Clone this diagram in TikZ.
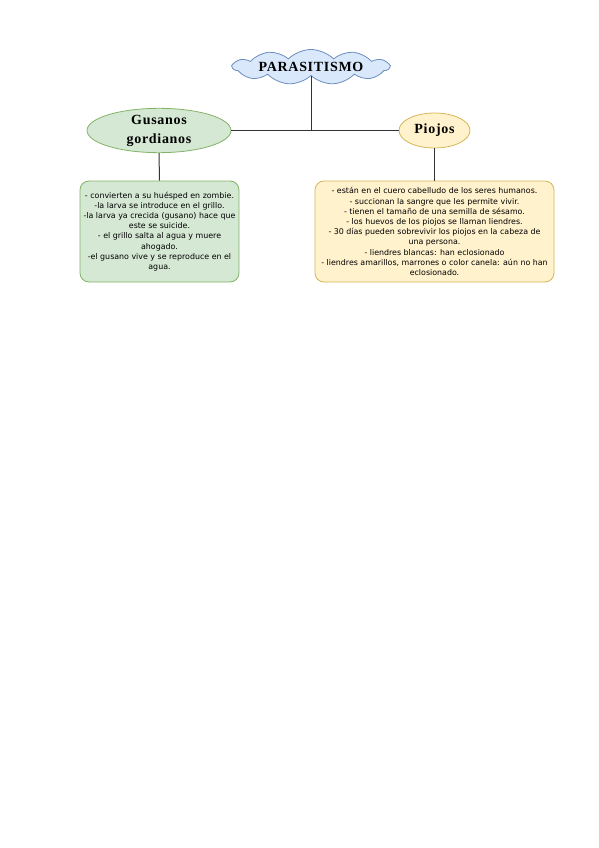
\documentclass[tikz,border=0pt]{standalone}
\usepackage{fontspec}
\setmainfont{Liberation Serif}
\setsansfont{DejaVu Sans}
\usetikzlibrary{shapes.symbols,shapes.geometric}

\definecolor{cloudfill}{HTML}{DAE8FC}
\definecolor{cloudline}{HTML}{6C8EBF}
\definecolor{greenfill}{HTML}{D5E8D4}
\definecolor{greenline}{HTML}{82B366}
\definecolor{yellowfill}{HTML}{FFF2CC}
\definecolor{yellowline}{HTML}{D6B656}

\begin{document}
\begin{tikzpicture}[x=1pt, y=-1pt,
            title/.style = {font=\bfseries\fontsize{14}{19}\selectfont\addfontfeature{LetterSpace=5}},
            topic/.style = {ellipse, draw, line width=0.8pt, inner sep=0pt, align=center, title},
            note/.style = {rectangle, rounded corners=9pt, draw, line width=0.8pt, inner sep=0pt,
                           align=center, font=\sffamily\fontsize{7.9}{10.2}\selectfont},
            link/.style = {draw=black!80, line width=1pt}]
            \useasboundingbox (0,0) rectangle (599,848);
            % main topic
            \node[cloud, cloud puffs=11, cloud puff arc=90, aspect=8, inner sep=0pt, draw=cloudline, fill=cloudfill,
                  line width=0.8pt, minimum width=156, minimum height=20, title] (root) at (311,67) {PARASITISMO};
            % the two kinds
            \node[topic, fill=greenfill, draw=greenline, minimum width=144, minimum height=41]
                (gusanos) at (159,130.5) {Gusanos\\gordianos};
            \node[topic, fill=yellowfill, draw=yellowline, minimum width=71, minimum height=35]
                (piojos) at (434.5,130.5) {Piojos};
            % notes
            \node[note, fill=greenfill, draw=greenline, minimum width=159, minimum height=101]
                (gusanosnote) at (159.5,231.5) {- convierten a su huésped en zombie.\\
                -la larva se introduce en el grillo.\\
                -la larva ya crecida (gusano) hace que\\
                este se suicide.\\
                - el grillo salta al agua y muere\\
                ahogado.\\
                -el gusano vive y se reproduce en el\\
                agua.};
            \node[note, fill=yellowfill, draw=yellowline, minimum width=239, minimum height=101]
                (piojosnote) at (434.5,231.5) {- están en el cuero cabelludo de los seres humanos.\\
                - succionan la sangre que les permite vivir.\\
                - tienen el tamaño de una semilla de sésamo.\\
                - los huevos de los piojos se llaman liendres.\\
                - 30 días pueden sobrevivir los piojos en la cabeza de\\
                una persona.\\
                - liendres blancas: han eclosionado\\
                - liendres amarillos, marrones o color canela: aún no han\\
                eclosionado.};
            % connectors
            \draw[link] (root.south) -- (root.south |- gusanos.east);
            \draw[link] (gusanos.east) -- (piojos.west);
            \draw[link] (gusanos.south) -- (gusanosnote.north);
            \draw[link] (piojos.south) -- (piojosnote.north);
\end{tikzpicture}
\end{document}
